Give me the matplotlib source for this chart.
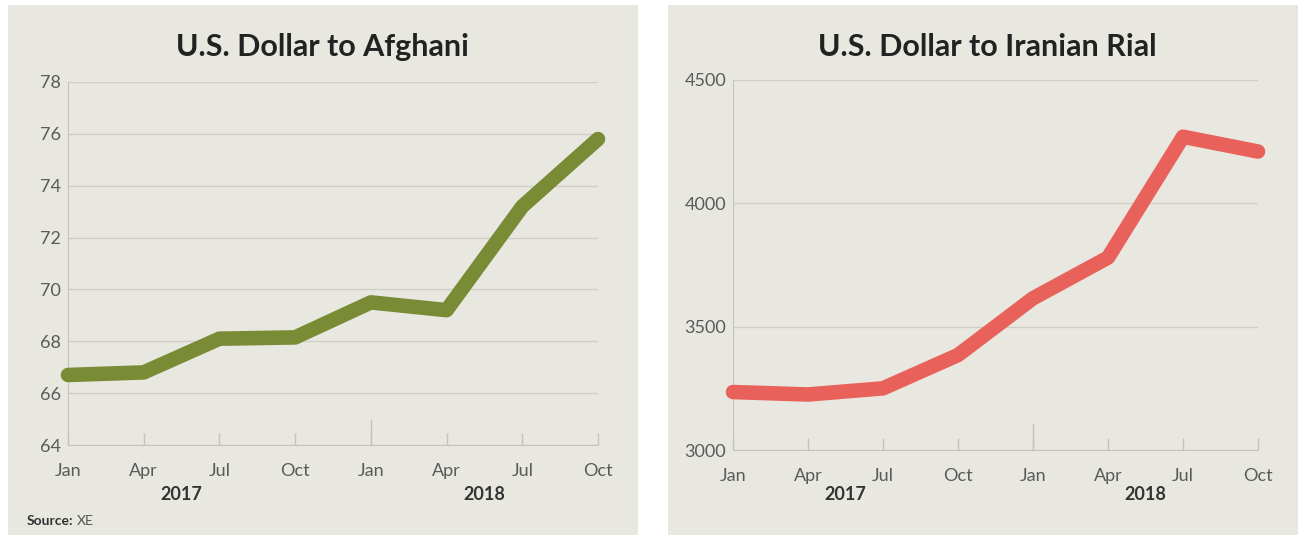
import matplotlib.pyplot as plt
from matplotlib.patches import Rectangle

plt.rcParams['font.family'] = ['Lato', 'DejaVu Sans']

# quarterly dates, Jan 2017 - Oct 2018
months = ['Jan', 'Apr', 'Jul', 'Oct', 'Jan', 'Apr', 'Jul', 'Oct']
years = ['2017', '2018']
afghani = [66.7, 66.8, 68.1, 68.15, 69.5, 69.2, 73.2, 75.8]
rial = [3235, 3225, 3250, 3385, 3615, 3780, 4270, 4210]

afghani_ticks = [64, 66, 68, 70, 72, 74, 76, 78]
rial_ticks = [3000, 3500, 4000, 4500]

bg = '#e8e8e1'
grid_c = '#cfcfc6'
text_c = '#5a5a5a'

fig = plt.figure(figsize=(13.02, 5.37), dpi=100)
fig.patch.set_facecolor('white')

# panel backgrounds
fig.patches.append(Rectangle((8 / 1302, 2 / 537), 630 / 1302, 530 / 537,
                             transform=fig.transFigure, facecolor=bg, edgecolor='none', zorder=-5))
fig.patches.append(Rectangle((668 / 1302, 2 / 537), 630 / 1302, 530 / 537,
                             transform=fig.transFigure, facecolor=bg, edgecolor='none', zorder=-5))


def draw_panel(rect, values, yticks, color, title, title_x, year_y):
    ax = fig.add_axes(rect)
    ax.set_facecolor('none')
    x = list(range(len(months)))
    ax.plot(x, values, color=color, lw=10.5, solid_capstyle='round',
            solid_joinstyle='round', zorder=3, clip_on=False)
    ax.set_xlim(0, len(months) - 1)
    ax.set_ylim(yticks[0], yticks[-1])
    ax.set_yticks(yticks)
    ax.set_yticklabels([str(t) for t in yticks], fontsize=13, color=text_c)
    ax.set_xticks(x)
    ax.set_xticklabels(months, fontsize=13, color=text_c)
    ax.tick_params(axis='y', length=0, pad=5)
    ax.tick_params(axis='x', direction='in', length=9, color='#c4c4bc', width=1, pad=13)
    # longer tick at year boundary
    ax.plot([4, 4], [0, 0.07], transform=ax.get_xaxis_transform(),
            color='#c4c4bc', lw=1, clip_on=False, zorder=2)
    for t in yticks:
        ax.axhline(t, color=grid_c, lw=1, zorder=1)
    for s in ['top', 'right']:
        ax.spines[s].set_visible(False)
    ax.spines['left'].set_color('#c4c4bc')
    ax.spines['bottom'].set_color('#c4c4bc')
    # year labels centred under each year's span
    for xi, yr in zip([1.5, 5.5], years):
        px = ax.transData.transform((xi, yticks[0]))[0]
        fig.text(px / 1302, 1 - year_y / 537, yr, ha='center', va='center',
                 fontsize=13, fontweight='bold', color='#333333')
    fig.text(title_x, 1 - 47 / 537, title, ha='center', va='center',
             fontsize=22, fontweight='bold', color='#222222')
    return ax


draw_panel([68 / 1302, 1 - 445 / 537, 530 / 1302, 363 / 537], afghani, afghani_ticks,
           '#7a8b36', 'U.S. Dollar to Afghani', 322 / 1302, 495)
draw_panel([733 / 1302, 1 - 450 / 537, 525 / 1302, 370 / 537], rial, rial_ticks,
           '#e8615a', 'U.S. Dollar to Iranian Rial', 987 / 1302, 495)

fig.text(27 / 1302, 1 - 521 / 537, 'Source:', fontsize=10, fontweight='bold',
         color='#333333', va='center')
fig.text(77 / 1302, 1 - 521 / 537, 'XE', fontsize=10, color='#555555', va='center')

fig.savefig('out.png', dpi=100, facecolor=fig.get_facecolor())
